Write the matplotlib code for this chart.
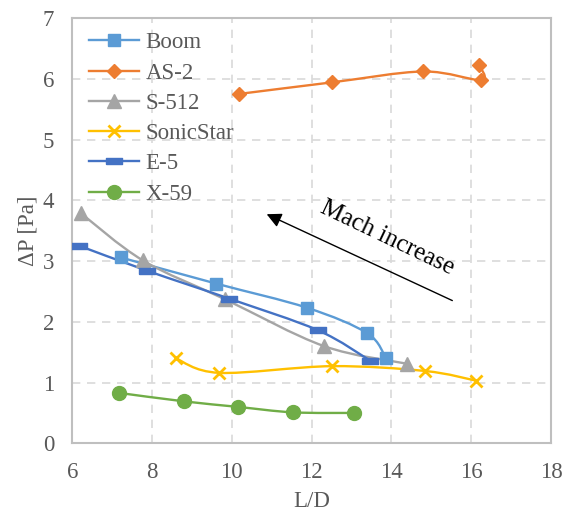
import numpy as np
import matplotlib
matplotlib.use("Agg")
import matplotlib.pyplot as plt
from matplotlib.path import Path
from matplotlib.patches import PathPatch
from matplotlib.lines import Line2D

# ---- data ----
boom_x = [7.21, 9.60, 11.89, 13.40, 13.86]
boom_y = [3.06, 2.63, 2.23, 1.81, 1.40]
as2_x = [10.18, 12.50, 14.80, 16.25, 16.19]
as2_y = [5.75, 5.94, 6.12, 5.98, 6.23]
s512_x = [6.21, 7.77, 9.83, 12.31, 14.39]
s512_y = [3.79, 3.01, 2.37, 1.60, 1.31]
sonic_x = [8.59, 9.68, 12.50, 14.85, 16.13]
sonic_y = [1.40, 1.16, 1.27, 1.19, 1.03]
e5_x = [6.18, 7.88, 9.94, 12.16, 13.47]
e5_y = [3.25, 2.84, 2.38, 1.86, 1.36]
x59_x = [7.17, 8.81, 10.15, 11.53, 13.06]
x59_y = [0.83, 0.69, 0.60, 0.51, 0.50]

series_names = ["Boom", "AS-2", "S-512", "SonicStar", "E-5", "X-59"]
x_ticks = [6, 8, 10, 12, 14, 16, 18]
y_ticks = [0, 1, 2, 3, 4, 5, 6, 7]

plt.rcParams['font.family'] = ['Liberation Serif', 'DejaVu Serif']

FS = 16.5
fig = plt.figure(figsize=(5.62, 5.14), dpi=100)
ax = fig.add_axes([0.1286, 0.1375, 0.8518, 0.8275])

dash_marker = [(-1, -0.38), (1, -0.38), (1, 0.38), (-1, 0.38), (-1, -0.38)]

styles = [
    dict(color="#5B9BD5", marker="s", ms=9),
    dict(color="#ED7D31", marker="D", ms=7),
    dict(color="#A5A5A5", marker="^", ms=10),
    dict(color="#FFC000", marker="x", ms=8, mew=2),
    dict(color="#4472C4", marker=dash_marker, ms=11),
    dict(color="#70AD47", marker="o", ms=10),
]
data = [(boom_x, boom_y), (as2_x, as2_y), (s512_x, s512_y),
        (sonic_x, sonic_y), (e5_x, e5_y), (x59_x, x59_y)]


def smooth_path(xs, ys):
    pts = np.column_stack([xs, ys]).astype(float)
    n = len(pts)
    verts = [pts[0]]
    codes = [Path.MOVETO]
    for i in range(n - 1):
        p0 = pts[i - 1] if i > 0 else pts[i]
        p1 = pts[i]
        p2 = pts[i + 1]
        p3 = pts[i + 2] if i + 2 < n else pts[i + 1]
        c1 = p1 + (p2 - p0) / 6.0
        c2 = p2 - (p3 - p1) / 6.0
        verts += [c1, c2, p2]
        codes += [Path.CURVE4] * 3
    return Path(verts, codes)


handles = []
for name, (xs, ys), st in zip(series_names, data, styles):
    patch = PathPatch(smooth_path(xs, ys), fill=False, edgecolor=st["color"],
                      lw=1.7, zorder=3)
    ax.add_patch(patch)
    kw = dict(ls="none", marker=st["marker"], ms=st["ms"], color=st["color"],
              mec=st["color"], mfc=st["color"], zorder=4)
    if "mew" in st:
        kw["mew"] = st["mew"]
    ax.plot(xs, ys, **kw)
    h = Line2D([], [], color=st["color"], lw=1.7, marker=st["marker"],
               ms=st["ms"], mec=st["color"], mfc=st["color"],
               mew=st.get("mew", 1.0))
    handles.append(h)

ax.set_xlim(6, 18)
ax.set_ylim(0, 7)
ax.set_xticks(x_ticks)
ax.set_yticks(y_ticks)
ax.tick_params(length=0, labelsize=FS, labelcolor="#595959")
ax.tick_params(axis="x", pad=13.5)
ax.tick_params(axis="y", pad=13)
ax.grid(True, color="#D9D9D9", ls=(0, (5, 4)), lw=1.2)
ax.set_axisbelow(True)
for sp in ax.spines.values():
    sp.set_color("#BFBFBF")
    sp.set_linewidth(1.5)

ax.set_xlabel("L/D", fontsize=FS, color="#595959", labelpad=6)
ax.set_ylabel("ΔP [Pa]", fontsize=FS, color="#595959", labelpad=3)

leg = ax.legend(handles, series_names, loc="upper left", frameon=False,
                fontsize=FS, handlelength=2.2, labelspacing=0.40,
                borderaxespad=0.0, borderpad=0.0, handletextpad=0.26,
                bbox_to_anchor=(0.035, 0.966))
for t in leg.get_texts():
    t.set_color("#595959")

ax.annotate("", xy=(10.81, 3.79), xytext=(15.59, 2.33),
            arrowprops=dict(arrowstyle="-|>", color="black", lw=1.0,
                            mutation_scale=22), zorder=5)
ax.text(13.90, 3.38, "Mach increase", rotation=-25.5, fontsize=18,
        ha="center", va="center", color="black", rotation_mode="anchor")

fig.savefig("out.png", dpi=100)
